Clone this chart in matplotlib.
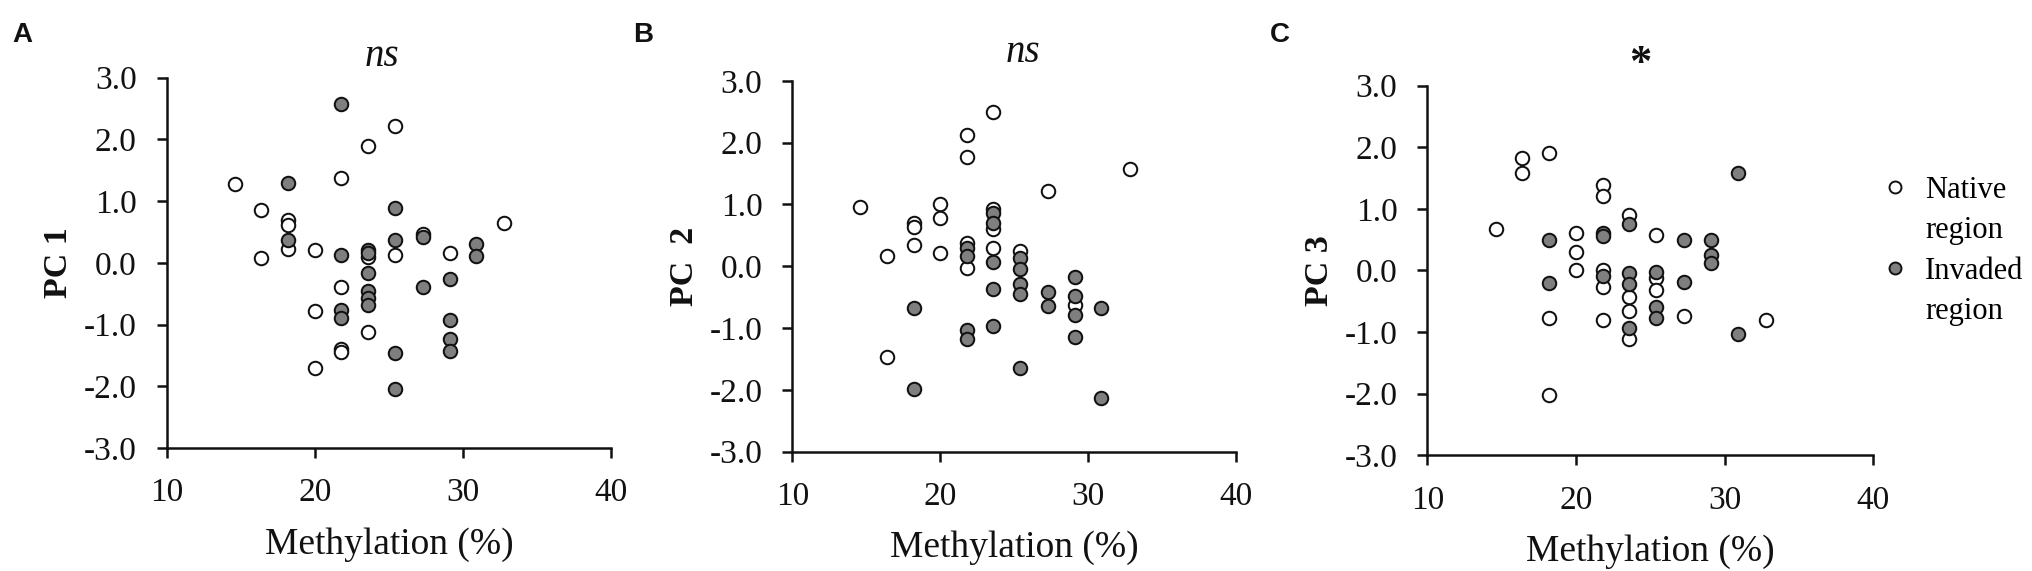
import matplotlib
matplotlib.use('Agg')
import matplotlib.pyplot as plt
from matplotlib.lines import Line2D
from matplotlib.ticker import FormatStrFormatter
from matplotlib.transforms import blended_transform_factory

plt.rcParams['font.family'] = ['Liberation Serif', 'DejaVu Serif']
plt.rcParams['axes.unicode_minus'] = False

# ---------------- data ----------------
x_ticks = [10, 20, 30, 40]
y_ticks = [-3.0, -2.0, -1.0, 0.0, 1.0, 2.0, 3.0]

# Panel A: PC 1
pc1_native_x = [14.6, 16.4, 16.4, 18.2, 18.2, 18.2, 20.0, 20.0, 20.0, 21.8, 21.8, 21.8, 21.8,
                23.6, 23.6, 23.6, 25.4, 25.4, 27.3, 29.1, 32.8]
pc1_native_y = [1.27, 0.85, 0.08, 0.70, 0.62, 0.23, 0.20, -0.78, -1.70, 1.38, -0.39, -1.40, -1.45,
                1.90, 0.10, -1.12, 2.22, 0.12, 0.47, 0.16, 0.65]
pc1_invaded_x = [18.2, 18.2, 21.8, 21.8, 21.8, 21.8, 23.6, 23.6, 23.6, 23.6, 23.6, 23.6,
                 25.4, 25.4, 25.4, 25.4, 27.3, 27.3, 29.1, 29.1, 29.1, 29.1, 30.9, 30.9]
pc1_invaded_y = [1.30, 0.37, 2.57, 0.13, -0.76, -0.89, 0.21, 0.16, -0.16, -0.46, -0.57, -0.69,
                 0.88, 0.37, -1.46, -2.04, 0.42, -0.40, -0.27, -0.93, -1.24, -1.43, 0.31, 0.11]

# Panel B: PC 2
pc2_native_x = [14.6, 16.4, 16.4, 18.2, 18.2, 18.2, 20.0, 20.0, 20.0, 21.8, 21.8, 21.8, 21.8,
                23.6, 23.6, 23.6, 23.6, 25.4, 27.3, 29.1, 32.8]
pc2_native_y = [0.95, 0.16, -1.47, 0.70, 0.63, 0.35, 1.00, 0.78, 0.21, 2.13, 1.76, 0.38, -0.03,
                2.49, 0.92, 0.61, 0.29, 0.25, 1.22, -0.63, 1.58]
pc2_invaded_x = [18.2, 18.2, 21.8, 21.8, 21.8, 21.8, 23.6, 23.6, 23.6, 23.6, 23.6,
                 25.4, 25.4, 25.4, 25.4, 25.4, 27.3, 27.3, 29.1, 29.1, 29.1, 29.1, 30.9, 30.9]
pc2_invaded_y = [-0.68, -1.99, 0.29, 0.17, -1.03, -1.18, 0.86, 0.70, 0.07, -0.37, -0.96,
                 0.14, -0.05, -0.28, -0.45, -1.64, -0.41, -0.64, -0.17, -0.48, -0.79, -1.15, -0.67, -2.14]

# Panel C: PC 3
pc3_native_x = [14.6, 16.4, 16.4, 18.2, 18.2, 18.2, 20.0, 20.0, 20.0, 21.8, 21.8, 21.8, 21.8, 21.8,
                23.6, 23.6, 23.6, 23.6, 25.4, 25.4, 25.4, 27.3, 32.8]
pc3_native_y = [0.67, 1.82, 1.58, 1.91, -0.77, -2.03, 0.60, 0.30, 0.01, 1.38, 1.20, 0.01, -0.27, -0.80,
                0.90, -0.43, -0.66, -1.11, 0.57, -0.12, -0.32, -0.74, -0.81]
pc3_invaded_x = [18.2, 18.2, 21.8, 21.8, 21.8, 23.6, 23.6, 23.6, 23.6, 25.4, 25.4, 25.4,
                 27.3, 27.3, 29.1, 29.1, 29.1, 30.9, 30.9]
pc3_invaded_y = [0.50, -0.21, 0.60, 0.56, -0.09, 0.75, -0.04, -0.22, -0.93, -0.02, -0.59, -0.78,
                 0.49, -0.19, 0.50, 0.25, 0.12, 1.58, -1.03]

panel_letters = ['A', 'B', 'C']
y_labels = ['PC 1', 'PC  2', 'PC 3']
x_label = 'Methylation (%)'
sig_labels = ['ns', 'ns', '*']
legend_labels = ['Native', 'region', 'Invaded', 'region']

# ---------------- style ----------------
W, H = 2033, 571
fig = plt.figure(figsize=(W / 100, H / 100), dpi=100)

FILL = '#7f7f7f'
EDGE = '#111111'
MS = 94
EW = 1.45

# axes rects in pixels: left, right, top, bottom
rects_px = [(166.7, 611.0, 77.6, 448.0),
            (792.3, 1236.0, 80.8, 451.6),
            (1427.3, 1873.3, 85.6, 455.2)]

panels = [
    (pc1_native_x, pc1_native_y, pc1_invaded_x, pc1_invaded_y),
    (pc2_native_x, pc2_native_y, pc2_invaded_x, pc2_invaded_y),
    (pc3_native_x, pc3_native_y, pc3_invaded_x, pc3_invaded_y),
]

sig_x = [24.5, 25.6, 24.3]
sig_y = [1.031, 1.051, 1.029]
letter_x = [12.7, 633.0, 1270.0]

for i, (nx, ny, ix, iy) in enumerate(panels):
    l, r, t, b = rects_px[i]
    ax = fig.add_axes([l / W, 1 - b / H, (r - l) / W, (b - t) / H])
    ax.scatter(nx, ny, s=MS, facecolor='white', edgecolor=EDGE, linewidths=EW, zorder=3, clip_on=False)
    ax.scatter(ix, iy, s=MS, facecolor=FILL, edgecolor=EDGE, linewidths=EW, zorder=4, clip_on=False)
    ax.set_xlim(10, 40)
    ax.set_ylim(-3, 3)
    ax.set_xticks(x_ticks)
    ax.set_yticks(y_ticks)
    ax.yaxis.set_major_formatter(FormatStrFormatter('%.1f'))
    for s in ['top', 'right']:
        ax.spines[s].set_visible(False)
    for s in ['left', 'bottom']:
        ax.spines[s].set_linewidth(1.8)
        ax.spines[s].set_color('#111111')
    ax.tick_params(direction='out', length=7.5, width=1.8, pad=14, labelsize=24,
                   color='#111111', labelcolor='#111111')
    ax.set_xlabel(x_label, fontsize=27, labelpad=13.5, color='#111111')
    ax.set_ylabel(y_labels[i], fontsize=24.5, fontweight='bold', labelpad=7, color='#111111')
    tr = blended_transform_factory(ax.transData, ax.transAxes)
    if sig_labels[i] == '*':
        ax.text(sig_x[i], sig_y[i], sig_labels[i], transform=tr, ha='center', va='baseline',
                fontsize=32, fontweight='bold', color='#111111')
    else:
        ax.text(sig_x[i], sig_y[i], sig_labels[i], transform=tr, ha='center', va='baseline',
                fontsize=28, fontstyle='italic', color='#111111')
    fig.text(letter_x[i] / W, 1 - 41.5 / H, panel_letters[i], ha='left', va='baseline',
             fontsize=20, fontweight='bold', family=['Liberation Sans', 'DejaVu Sans'],
             color='#111111')

# legend
h_native = Line2D([], [], ls='none', marker='o', markersize=8.6, markerfacecolor='white',
                  markeredgecolor=EDGE, markeredgewidth=1.4)
h_invaded = Line2D([], [], ls='none', marker='o', markersize=8.6, markerfacecolor=FILL,
                   markeredgecolor=EDGE, markeredgewidth=1.4)
h_blank = Line2D([], [], ls='none', marker=None)
leg_fs = 22
em = leg_fs * 100 / 72
fig.legend([h_native, h_blank, h_invaded, h_blank], legend_labels,
           loc='upper left', bbox_to_anchor=((1895 - 0.5 * em) / W, 1 - (197 - 0.683 * em) / H),
           frameon=False, fontsize=leg_fs, handlelength=1.0, handletextpad=0.48,
           labelspacing=0.37, borderpad=0, borderaxespad=0)

fig.savefig('out.png', dpi=100)
